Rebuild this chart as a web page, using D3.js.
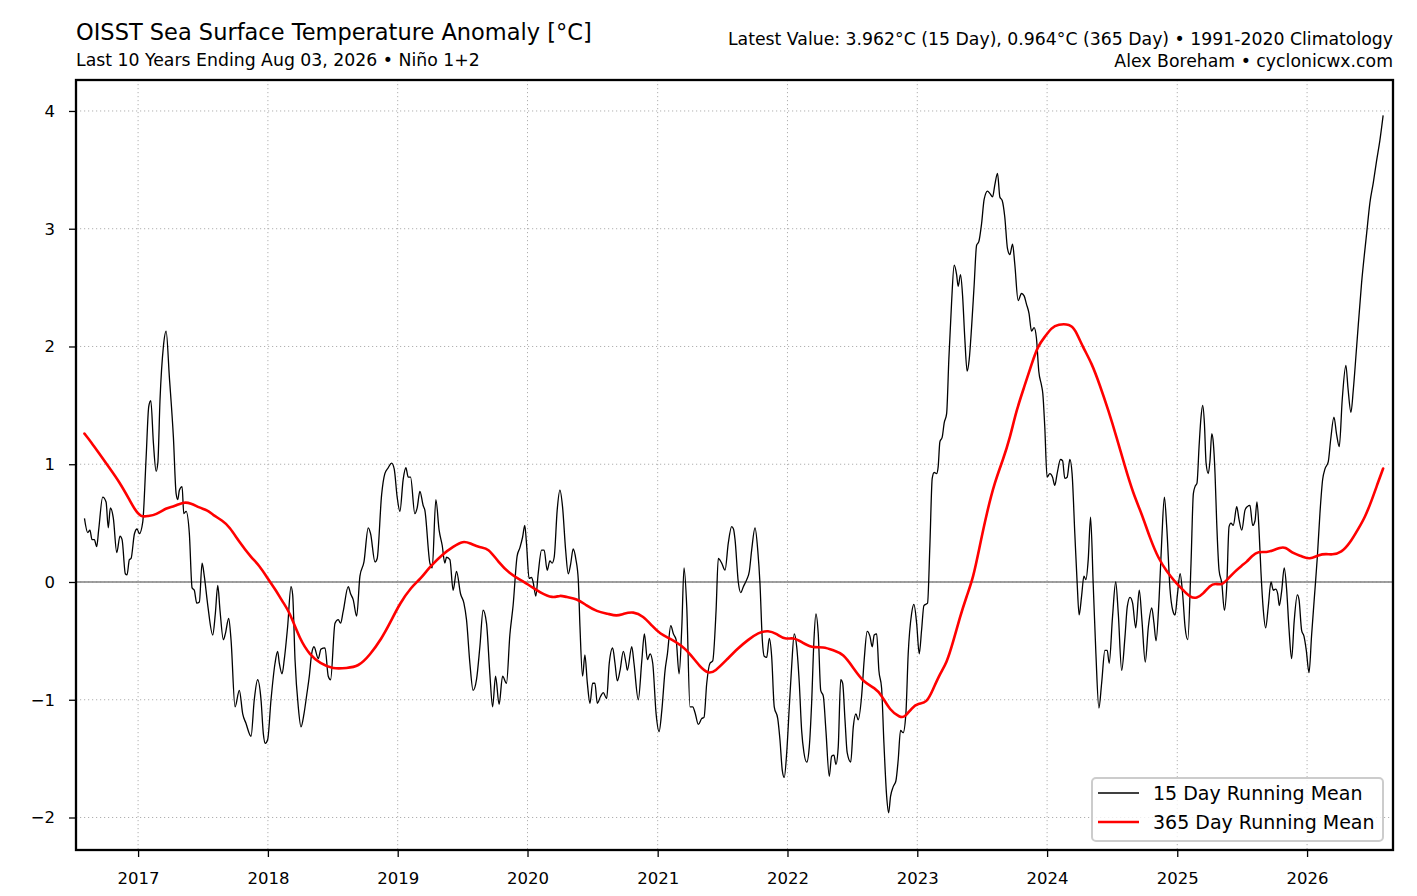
<!DOCTYPE html>
<html>
<head>
<meta charset="utf-8">
<script src="https://cdn.jsdelivr.net/npm/d3@7"></script>
<style>
  html, body { margin: 0; padding: 0; background: #ffffff; }
  svg { display: block; font-family: "DejaVu Sans", sans-serif; }
</style>
</head>
<body>
<svg id="chart" width="1417" height="896"></svg>
<script>
// ---------------- DATA (decimal years / °C) ----------------
const title = "OISST Sea Surface Temperature Anomaly [°C]";
const subtitle = "Last 10 Years Ending Aug 03, 2026 • Niño 1+2";
const infoLine1 = "Latest Value: 3.962°C (15 Day), 0.964°C (365 Day) • 1991-2020 Climatology";
const infoLine2 = "Alex Boreham • cyclonicwx.com";
const seriesNames = ["15 Day Running Mean", "365 Day Running Mean"];
const xTickYears = [2017, 2018, 2019, 2020, 2021, 2022, 2023, 2024, 2025, 2026];
const yTickValues = [-2, -1, 0, 1, 2, 3, 4];
const xLimits = [2016.523, 2026.662];
const yLimits = [-2.276, 4.263];

// 15 day running mean
const day15Dates = [
2016.588,2016.613,2016.630,2016.646,2016.664,2016.682,2016.697,2016.728,2016.754,2016.771,2016.787,2016.810,2016.836,2016.861,2016.877,2016.902,2016.915,2016.933,2016.946,2016.972,2016.992,
2017.010,2017.036,2017.062,2017.082,2017.098,2017.118,2017.139,2017.152,2017.169,2017.195,2017.216,2017.241,2017.272,2017.293,2017.306,2017.318,2017.339,2017.352,2017.370,2017.395,2017.416,2017.433,2017.452,2017.472,2017.493,2017.510,2017.537,2017.575,2017.595,2017.614,2017.631,2017.657,2017.672,2017.698,2017.716,2017.747,2017.780,2017.806,2017.831,2017.870,2017.895,2017.921,2017.947,2017.965,2017.980,2017.998,
2018.024,2018.055,2018.075,2018.088,2018.109,2018.126,2018.152,2018.178,2018.191,2018.209,2018.234,2018.255,2018.278,2018.299,2018.319,2018.337,2018.355,2018.388,2018.409,2018.440,2018.465,2018.483,2018.517,2018.542,2018.560,2018.580,2018.619,2018.637,2018.657,2018.684,2018.709,2018.740,2018.773,2018.791,2018.825,2018.842,2018.876,2018.901,2018.927,2018.953,2018.973,2018.996,
2019.017,2019.042,2019.063,2019.081,2019.099,2019.132,2019.150,2019.171,2019.196,2019.209,2019.248,2019.266,2019.294,2019.319,2019.343,2019.363,2019.376,2019.402,2019.427,2019.453,2019.484,2019.510,2019.530,2019.556,2019.581,2019.607,2019.633,2019.658,2019.684,2019.710,2019.731,2019.754,2019.781,2019.808,2019.838,2019.864,2019.889,2019.920,2019.941,2019.962,2019.979,2019.992,
2020.012,2020.031,2020.043,2020.064,2020.082,2020.108,2020.128,2020.151,2020.172,2020.189,2020.205,2020.228,2020.249,2020.269,2020.293,2020.313,2020.331,2020.351,2020.372,2020.390,2020.403,2020.423,2020.441,2020.459,2020.480,2020.500,2020.518,2020.536,2020.562,2020.582,2020.608,2020.628,2020.654,2020.672,2020.690,2020.711,2020.736,2020.757,2020.767,2020.801,2020.818,2020.851,2020.878,2020.898,2020.921,2020.942,2020.962,2020.988,
2021.011,2021.032,2021.057,2021.075,2021.101,2021.121,2021.142,2021.165,2021.186,2021.203,2021.224,2021.249,2021.270,2021.288,2021.313,2021.339,2021.357,2021.378,2021.403,2021.424,2021.450,2021.467,2021.493,2021.519,2021.544,2021.570,2021.584,2021.596,2021.621,2021.640,2021.660,2021.686,2021.706,2021.724,2021.750,2021.771,2021.788,2021.806,2021.821,2021.840,2021.860,2021.878,2021.898,2021.925,2021.942,2021.960,2021.975,2021.994,
2022.014,2022.032,2022.052,2022.071,2022.091,2022.109,2022.127,2022.148,2022.168,2022.186,2022.204,2022.219,2022.237,2022.256,2022.276,2022.296,2022.322,2022.340,2022.358,2022.373,2022.391,2022.410,2022.425,2022.443,2022.460,2022.487,2022.507,2022.527,2022.545,2022.571,2022.591,2022.614,2022.635,2022.653,2022.668,2022.687,2022.704,2022.725,2022.743,2022.764,2022.779,2022.794,2022.814,2022.835,2022.853,2022.871,2022.891,2022.912,2022.930,2022.956,2022.974,2022.995,
2023.015,2023.033,2023.051,2023.079,2023.097,2023.115,2023.130,2023.149,2023.161,2023.174,2023.192,2023.207,2023.226,2023.243,2023.264,2023.284,2023.303,2023.315,2023.333,2023.349,2023.366,2023.384,2023.400,2023.418,2023.438,2023.457,2023.474,2023.495,2023.515,2023.541,2023.559,2023.580,2023.597,2023.618,2023.636,2023.654,2023.674,2023.695,2023.713,2023.734,2023.751,2023.777,2023.803,2023.823,2023.841,2023.861,2023.880,2023.900,2023.918,2023.936,2023.957,2023.967,2023.982,
2024.000,2024.021,2024.042,2024.059,2024.077,2024.103,2024.119,2024.136,2024.154,2024.175,2024.192,2024.213,2024.231,2024.246,2024.265,2024.283,2024.298,2024.316,2024.334,2024.354,2024.375,2024.398,2024.419,2024.444,2024.462,2024.477,2024.503,2024.527,2024.547,2024.573,2024.598,2024.616,2024.637,2024.657,2024.681,2024.708,2024.729,2024.754,2024.778,2024.804,2024.821,2024.837,2024.860,2024.881,2024.901,2024.919,2024.945,2024.965,2024.983,
2025.001,2025.022,2025.042,2025.060,2025.081,2025.106,2025.124,2025.137,2025.152,2025.168,2025.183,2025.196,2025.209,2025.222,2025.239,2025.252,2025.266,2025.278,2025.291,2025.304,2025.322,2025.343,2025.363,2025.381,2025.399,2025.414,2025.432,2025.458,2025.476,2025.497,2025.522,2025.540,2025.560,2025.581,2025.599,2025.614,2025.630,2025.645,2025.663,2025.681,2025.701,2025.722,2025.740,2025.758,2025.774,2025.786,2025.804,2025.824,2025.843,2025.861,2025.881,2025.901,2025.925,2025.938,2025.958,2025.976,2025.994,
2026.015,2026.035,2026.055,2026.079,2026.099,2026.120,2026.138,2026.163,2026.182,2026.207,2026.228,2026.248,2026.271,2026.299,2026.315,2026.338,2026.356,2026.382,2026.420,2026.459,2026.484,2026.510,2026.536,2026.561,2026.586
];
const day15Values = [
0.54,0.42,0.44,0.36,0.36,0.30,0.44,0.72,0.68,0.46,0.63,0.54,0.25,0.39,0.36,0.07,0.06,0.19,0.20,0.41,0.45,
0.41,0.51,1.06,1.49,1.54,1.18,0.94,1.01,1.55,2.00,2.13,1.74,1.23,0.75,0.70,0.78,0.81,0.58,0.60,0.41,-0.05,-0.07,-0.18,-0.17,0.16,0.05,-0.20,-0.45,-0.27,-0.03,-0.24,-0.49,-0.44,-0.31,-0.49,-1.06,-0.92,-1.12,-1.20,-1.31,-1.00,-0.83,-1.00,-1.29,-1.37,-1.34,
-1.00,-0.69,-0.59,-0.69,-0.78,-0.66,-0.38,-0.04,-0.11,-0.66,-1.06,-1.23,-1.12,-0.96,-0.80,-0.61,-0.55,-0.65,-0.57,-0.56,-0.80,-0.83,-0.35,-0.32,-0.35,-0.25,-0.04,-0.10,-0.15,-0.29,0.05,0.17,0.46,0.41,0.17,0.20,0.74,0.92,0.97,1.01,0.96,0.72,
0.60,0.87,0.97,0.89,0.89,0.58,0.63,0.77,0.65,0.61,0.16,0.12,0.70,0.44,0.31,0.16,0.21,0.19,-0.07,0.09,-0.10,-0.18,-0.32,-0.69,-0.92,-0.83,-0.55,-0.24,-0.35,-0.78,-1.06,-0.80,-1.04,-0.80,-0.86,-0.45,-0.20,0.22,0.29,0.38,0.48,0.33,
0.03,0.04,0.00,-0.12,0.07,0.27,0.27,0.10,0.18,0.16,0.21,0.61,0.78,0.64,0.27,0.07,0.15,0.28,0.19,0.02,-0.38,-0.80,-0.62,-0.85,-1.03,-0.86,-0.86,-1.03,-0.97,-0.94,-0.99,-0.69,-0.56,-0.69,-0.84,-0.75,-0.59,-0.69,-0.75,-0.55,-0.69,-1.00,-0.67,-0.44,-0.66,-0.61,-0.69,-1.12,
-1.27,-1.09,-0.75,-0.61,-0.37,-0.44,-0.49,-0.78,-0.38,0.12,-0.21,-1.06,-1.06,-1.11,-1.21,-1.16,-1.15,-0.86,-0.69,-0.67,-0.24,0.20,0.16,0.10,0.33,0.47,0.45,0.36,0.00,-0.09,-0.04,0.02,0.09,0.27,0.46,0.27,-0.01,-0.49,-0.63,-0.64,-0.48,-0.63,-1.06,-1.16,-1.34,-1.60,-1.66,-1.45,
-1.06,-0.72,-0.44,-0.55,-0.86,-1.26,-1.45,-1.53,-1.40,-1.03,-0.49,-0.27,-0.44,-0.92,-0.97,-1.26,-1.65,-1.48,-1.47,-1.55,-1.40,-0.83,-0.86,-1.17,-1.45,-1.53,-1.23,-1.12,-1.17,-0.97,-0.66,-0.42,-0.46,-0.55,-0.45,-0.44,-0.75,-0.90,-1.37,-1.82,-1.96,-1.82,-1.74,-1.69,-1.51,-1.26,-1.28,-1.12,-0.61,-0.27,-0.19,-0.35,
-0.61,-0.41,-0.20,-0.18,0.31,0.88,0.93,0.92,0.98,1.19,1.23,1.35,1.43,1.89,2.37,2.69,2.61,2.51,2.61,2.43,2.07,1.79,1.89,2.16,2.52,2.86,2.89,3.04,3.25,3.32,3.30,3.27,3.37,3.47,3.27,3.24,3.10,2.83,2.78,2.87,2.70,2.39,2.45,2.43,2.36,2.28,2.13,2.16,2.07,1.79,1.67,1.60,1.32,
0.89,0.92,0.89,0.82,0.92,1.04,1.03,0.88,0.89,1.04,0.92,0.41,-0.01,-0.28,-0.12,0.05,0.02,0.19,0.55,-0.01,-0.61,-1.07,-0.86,-0.58,-0.58,-0.69,-0.29,0.00,-0.27,-0.75,-0.47,-0.21,-0.13,-0.18,-0.39,-0.07,-0.33,-0.68,-0.38,-0.22,-0.35,-0.50,-0.15,0.36,0.72,0.47,-0.07,-0.24,-0.28,
-0.11,0.07,-0.11,-0.38,-0.49,0.16,0.75,0.81,0.84,1.15,1.40,1.50,1.35,1.01,0.92,1.03,1.26,1.18,0.92,0.50,0.10,-0.01,-0.24,-0.04,0.47,0.50,0.48,0.64,0.53,0.44,0.61,0.64,0.65,0.48,0.52,0.68,0.44,0.08,-0.24,-0.39,-0.21,0.00,-0.07,-0.06,-0.10,-0.20,-0.08,0.12,-0.07,-0.40,-0.65,-0.33,-0.11,-0.15,-0.41,-0.46,-0.58,
-0.77,-0.45,-0.15,0.21,0.58,0.87,0.96,1.02,1.21,1.40,1.25,1.15,1.55,1.84,1.65,1.44,1.63,2.00,2.54,2.96,3.22,3.39,3.58,3.75,3.962
];

// 365 day running mean
const day365Dates = [
2016.588,2016.638,2016.702,2016.779,2016.856,2016.933,2016.977,2017.023,2017.075,2017.139,2017.216,2017.279,2017.344,2017.408,2017.472,2017.537,2017.575,2017.652,2017.703,2017.780,2017.870,2017.934,2017.998,
2018.062,2018.114,2018.165,2018.247,2018.324,2018.401,2018.503,2018.607,2018.696,2018.786,2018.876,2018.940,
2019.017,2019.107,2019.171,2019.248,2019.350,2019.427,2019.504,2019.556,2019.633,2019.697,2019.774,2019.864,2019.941,
2020.018,2020.095,2020.197,2020.249,2020.300,2020.377,2020.454,2020.531,2020.620,2020.685,2020.736,2020.813,2020.890,2020.955,
2021.018,2021.095,2021.186,2021.249,2021.326,2021.390,2021.442,2021.532,2021.621,2021.698,2021.775,2021.852,2021.917,2021.981,
2022.045,2022.109,2022.186,2022.276,2022.353,2022.430,2022.507,2022.584,2022.674,2022.725,2022.789,2022.866,2022.905,2022.956,
2023.007,2023.072,2023.122,2023.174,2023.226,2023.276,2023.328,2023.380,2023.430,2023.482,2023.534,2023.597,2023.661,2023.713,2023.764,2023.828,2023.880,2023.931,2023.982,
2024.034,2024.085,2024.175,2024.213,2024.277,2024.342,2024.406,2024.470,2024.534,2024.598,2024.662,2024.727,2024.791,2024.855,2024.919,2024.983,
2025.047,2025.099,2025.150,2025.201,2025.252,2025.291,2025.343,2025.393,2025.445,2025.497,2025.535,2025.574,2025.624,2025.689,2025.740,2025.791,2025.830,2025.894,2025.958,
2026.022,2026.086,2026.151,2026.189,2026.266,2026.330,2026.394,2026.446,2026.497,2026.548,2026.586
];
const day365Values = [
1.26,1.19,1.09,0.97,0.85,0.70,0.61,0.55,0.56,0.57,0.63,0.64,0.68,0.67,0.63,0.61,0.57,0.52,0.47,0.34,0.21,0.14,0.03,
-0.07,-0.17,-0.25,-0.49,-0.62,-0.69,-0.74,-0.73,-0.72,-0.62,-0.48,-0.35,
-0.18,-0.04,0.02,0.13,0.24,0.30,0.35,0.33,0.29,0.29,0.17,0.07,0.02,
-0.03,-0.09,-0.14,-0.11,-0.13,-0.14,-0.20,-0.25,-0.27,-0.29,-0.27,-0.25,-0.29,-0.37,
-0.44,-0.48,-0.54,-0.61,-0.72,-0.78,-0.76,-0.66,-0.56,-0.49,-0.43,-0.41,-0.44,-0.49,
-0.47,-0.51,-0.56,-0.55,-0.58,-0.61,-0.73,-0.85,-0.90,-0.96,-1.09,-1.15,-1.15,-1.07,
-1.03,-1.03,-0.91,-0.78,-0.69,-0.51,-0.30,-0.12,0.03,0.31,0.58,0.85,1.04,1.22,1.46,1.67,1.85,2.01,2.08,
2.16,2.19,2.19,2.15,1.99,1.86,1.67,1.46,1.23,0.98,0.75,0.58,0.37,0.20,0.09,0.00,
-0.07,-0.13,-0.14,-0.10,-0.03,-0.01,-0.03,0.03,0.09,0.14,0.17,0.22,0.26,0.25,0.27,0.29,0.30,0.24,0.22,
0.19,0.23,0.24,0.23,0.25,0.33,0.45,0.55,0.69,0.85,0.964
];

// ---------------- DRAWING ----------------
function toDate(v) {
  const y = Math.floor(v);
  const s = Date.UTC(y, 0, 1), e = Date.UTC(y + 1, 0, 1);
  return new Date(s + (v - y) * (e - s));
}

const svg = d3.select("#chart");
const m = { left: 76, right: 1393, top: 80, bottom: 850 };

const x = d3.scaleUtc().domain(xLimits.map(toDate)).range([m.left, m.right]);
const y = d3.scaleLinear().domain(yLimits).range([m.bottom, m.top]);

const fmt = v => (v < 0 ? "\u2212" + Math.abs(v) : String(v));

// clip
svg.append("defs").append("clipPath").attr("id", "plotclip")
  .append("rect").attr("x", m.left).attr("y", m.top)
  .attr("width", m.right - m.left).attr("height", m.bottom - m.top);

// grid
const grid = svg.append("g");
grid.selectAll("line.gx").data(xTickYears).join("line")
  .attr("x1", d => x(toDate(d))).attr("x2", d => x(toDate(d)))
  .attr("y1", m.top).attr("y2", m.bottom)
  .attr("stroke", "#b0b0b0").attr("stroke-width", 1).attr("stroke-dasharray", "1.2,2.8");
grid.selectAll("line.gy").data(yTickValues).join("line")
  .attr("x1", m.left).attr("x2", m.right)
  .attr("y1", d => y(d)).attr("y2", d => y(d))
  .attr("stroke", "#b0b0b0").attr("stroke-width", 1).attr("stroke-dasharray", "1.2,2.8");

// zero line
svg.append("line")
  .attr("x1", m.left).attr("x2", m.right).attr("y1", y(0)).attr("y2", y(0))
  .attr("stroke", "#808080").attr("stroke-width", 1.4);

const plot = svg.append("g").attr("clip-path", "url(#plotclip)");

const d15 = day15Dates.map((d, i) => [toDate(d), day15Values[i]]);
const d365 = day365Dates.map((d, i) => [toDate(d), day365Values[i]]);

plot.append("path").datum(d15)
  .attr("d", d3.line().x(d => x(d[0])).y(d => y(d[1])).curve(d3.curveMonotoneX))
  .attr("fill", "none").attr("stroke", "#000000").attr("stroke-width", 1.3)
  .attr("stroke-linejoin", "round");

plot.append("path").datum(d365)
  .attr("d", d3.line().x(d => x(d[0])).y(d => y(d[1])).curve(d3.curveBasis))
  .attr("fill", "none").attr("stroke", "#ff0000").attr("stroke-width", 2.6)
  .attr("stroke-linejoin", "round").attr("stroke-linecap", "round");

// axes
const xAxis = d3.axisBottom(x).tickValues(xTickYears.map(toDate))
  .tickFormat(d3.utcFormat("%Y")).tickSize(7).tickPadding(15);
const gx = svg.append("g").attr("transform", `translate(0,${m.bottom})`).call(xAxis);
const yAxis = d3.axisLeft(y).tickValues(yTickValues).tickFormat(fmt).tickSize(7).tickPadding(14);
const gy = svg.append("g").attr("transform", `translate(${m.left},0)`).call(yAxis);
[gx, gy].forEach(g => {
  g.select(".domain").remove();
  g.selectAll(".tick line").attr("stroke", "#000").attr("stroke-width", 1.3);
  g.selectAll(".tick text").attr("fill", "#000").style("font-size", "16.5px")
    .style("font-family", "'DejaVu Sans', sans-serif");
});
gy.selectAll(".tick text").attr("x", -21);

// frame
svg.append("rect").attr("x", m.left).attr("y", m.top)
  .attr("width", m.right - m.left).attr("height", m.bottom - m.top)
  .attr("fill", "none").attr("stroke", "#000").attr("stroke-width", 2.3);

// titles
svg.append("text").attr("x", 76).attr("y", 40).text(title)
  .style("font-size", "22.5px").attr("fill", "#000");
svg.append("text").attr("x", 76).attr("y", 66).text(subtitle)
  .style("font-size", "17.3px").attr("fill", "#000");
svg.append("text").attr("x", 1393).attr("y", 45).attr("text-anchor", "end").text(infoLine1)
  .style("font-size", "17.3px").attr("fill", "#000");
svg.append("text").attr("x", 1393).attr("y", 67).attr("text-anchor", "end").text(infoLine2)
  .style("font-size", "17.3px").attr("fill", "#000");

// legend
const lg = svg.append("g");
lg.append("rect").attr("x", 1092).attr("y", 778).attr("width", 291).attr("height", 63)
  .attr("rx", 4).attr("fill", "#ffffff").attr("fill-opacity", 0.8)
  .attr("stroke", "#cccccc").attr("stroke-width", 2);
const legendStyles = [
  { color: "#000000", width: 1.3, y: 793 },
  { color: "#ff0000", width: 2.6, y: 822 }
];
seriesNames.forEach((name, i) => {
  const s = legendStyles[i];
  lg.append("line").attr("x1", 1098).attr("x2", 1139).attr("y1", s.y).attr("y2", s.y)
    .attr("stroke", s.color).attr("stroke-width", s.width);
  lg.append("text").attr("x", 1153).attr("y", s.y + 7).text(name)
    .style("font-size", "19px").attr("fill", "#000");
});
</script>
</body>
</html>
